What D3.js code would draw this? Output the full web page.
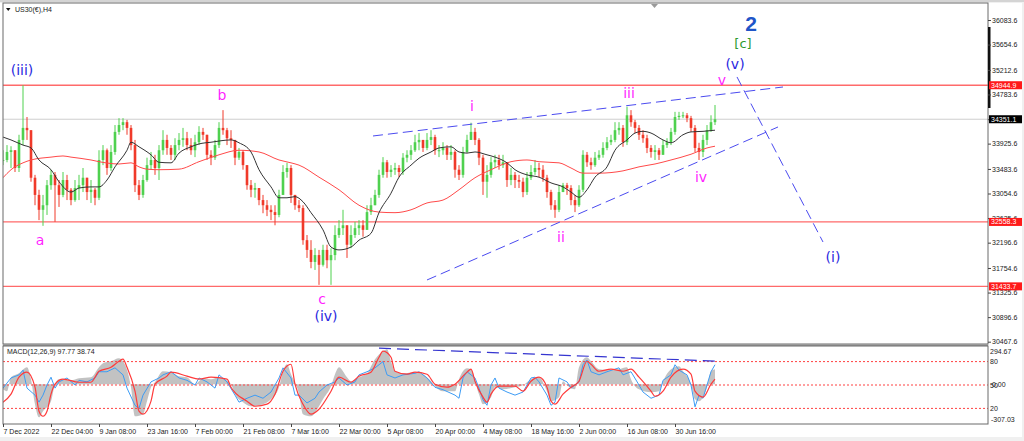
<!DOCTYPE html>
<html>
<head>
<meta charset="utf-8">
<script src="https://cdn.jsdelivr.net/npm/d3@7"></script>
<style>
  html, body { margin: 0; padding: 0; background: #f0f0f0; }
  svg { display: block; }
</style>
</head>
<body>
<svg id="chart" width="1024" height="441"></svg>
<script>
// US30(€) H4 candles, one entry per bar (open = previous close)
const closes = [
  33640,33780,33810,33500,33990,34200,34160,33330,33030,32770,
  32850,33200,33380,33200,33030,33290,33120,32940,33150,33200,
  33330,33080,33120,32980,33640,33810,33500,33780,34130,34250,
  34300,34200,33900,33200,33030,33290,33550,33640,33500,33810,
  33990,33850,33730,33900,33990,34020,33900,33810,33950,34130,
  34080,33730,33680,33900,34200,34160,34020,33990,33680,33780,
  33550,33200,33120,33150,32940,32850,32770,32730,32680,33030,
  33430,33500,33030,32850,32800,32240,32070,31860,31980,31810,
  32070,31890,31980,32330,32450,32500,32160,32330,32450,32500,
  32420,32730,32850,33030,33380,33600,33430,33470,33500,33430,
  33680,33730,33810,33950,33990,33850,33990,34040,33810,33810,
  33850,33730,33780,33470,33380,33780,33990,34130,33990,33680,
  33260,33380,33600,33640,33550,33600,33290,33380,33290,33260,
  33080,33330,33430,33500,33470,33330,33080,32850,32770,33080,
  33200,33150,32940,32850,33120,33730,33600,33550,33680,33730,
  33850,33950,33990,34160,34200,33950,34420,34300,34200,34080,
  34020,33850,33780,33810,33730,33900,33950,34130,34390,34410,
  34420,34370,34200,33850,33780,33990,34160,34300,34351.1
];
const highs = [
  33810,33900,33880,33810,34080,34945,34390,34160,33380,33120,
  33030,33290,33470,33430,33290,33430,33380,33150,33290,33380,
  33500,33330,33290,33150,33810,33900,33840,33900,34250,34370,
  34370,34340,34250,33990,33290,33380,33680,33780,33730,33900,
  34160,34080,33900,34020,34110,34200,34130,34020,34080,34230,
  34200,34080,33810,33990,34300,34510,34200,34160,33990,33850,
  33810,33550,33290,33240,33150,33030,32940,32850,32850,33120,
  33550,33590,33550,33030,32940,32850,32330,32240,32100,32070,
  32160,32160,32100,32500,32590,32770,32500,32500,32560,32590,
  32590,32850,32980,33120,33470,33690,33640,33550,33590,33550,
  33760,33810,33900,34080,34110,33990,34110,34160,34080,33900,
  33950,33900,33900,33810,33550,33870,34080,34290,34200,34020,
  33730,33550,33690,33730,33730,33730,33600,33500,33430,33380,
  33330,33430,33550,33640,33590,33550,33380,33120,32940,33200,
  33240,33240,33200,33030,33200,33810,33780,33680,33780,33810,
  33950,34040,34080,34300,34300,34250,34570,34510,34340,34250,
  34160,34080,33900,33900,33850,33990,34020,34200,34480,34480,
  34480,34460,34410,34250,33940,34080,34250,34420,34600
];
const lows = [
  33550,33600,33500,33430,33430,33900,33990,33260,32850,32590,
  32490,32680,33120,32560,32820,32990,32940,32850,32910,32940,
  33080,32940,32890,32850,32940,33550,33380,33450,33730,34080,
  34160,34080,33810,33080,32940,32980,33260,33470,33380,33290,
  33730,33730,33640,33640,33810,33870,33810,33730,33690,33900,
  33990,33640,33550,33640,33850,34080,33900,33850,33550,33640,
  33470,33120,32990,32980,32850,32710,32660,32590,32500,32640,
  33030,33330,32890,32770,32730,32160,31930,31750,31720,31460,
  31780,31750,31460,31890,32280,32330,31930,32100,32280,32330,
  32300,32420,32680,32850,32980,33330,33330,33340,33380,33340,
  33380,33600,33640,33780,33810,33780,33810,33900,33730,33690,
  33730,33640,33640,33330,33290,33330,33760,33990,33900,33550,
  33030,32980,33330,33500,33470,33500,33170,33200,33150,33150,
  32990,33030,33290,33380,33340,33260,32980,32770,32630,32730,
  33080,33030,32850,32730,32820,33080,33520,33470,33520,33640,
  33680,33810,33900,33950,34080,33870,33900,34220,34110,33990,
  33940,33760,33680,33640,33640,33730,33850,33900,34080,34340,
  34370,34300,34130,33780,33640,33690,33900,34130,34250
];

// moving averages, [bar, price]
const maFast = [
  [0,34040],[2,33990],[5,33900],[7,33850],[9,33640],[12,33470],[14,33260],[17,33080],
  [19,33150],[22,33170],[24,33170],[26,33290],[28,33520],[31,33810],[32,33950],[34,33870],
  [37,33730],[39,33600],[42,33590],[44,33760],[47,33870],[49,33920],[52,33950],[57,33990],
  [59,33940],[62,33780],[64,33470],[67,33170],[69,32980],[71,32980],[73,33000],[75,32910],
  [77,32720],[80,32420],[82,32120],[84,32070],[87,32120],[89,32240],[92,32360],[94,32720],
  [97,33060],[99,33340],[102,33550],[104,33670],[107,33780],[109,33850],[112,33870],[114,33780],
  [116,33760],[118,33780],[121,33730],[123,33690],[126,33590],[128,33470],[131,33380],[134,33340],
  [137,33240],[140,33170],[142,33080],[144,32990],[146,33120],[148,33340],[151,33520],[153,33810],
  [156,33990],[158,34110],[160,34140],[162,34110],[165,33990],[167,33940],[170,34080],[172,34130],
  [175,34140],[178,34160]
];
const maSlow = [
  [0,33330],[2,33470],[5,33590],[7,33640],[12,33690],[15,33710],[17,33690],[22,33640],
  [24,33610],[29,33570],[32,33590],[34,33520],[36,33480],[39,33470],[44,33480],[49,33610],
  [54,33730],[59,33810],[64,33780],[69,33640],[72,33590],[74,33550],[79,33340],[84,33120],
  [89,32850],[94,32730],[98,32720],[102,32770],[106,32890],[110,32940],[114,33120],[118,33330],
  [122,33470],[127,33610],[131,33640],[134,33610],[139,33590],[142,33500],[145,33410],[149,33410],
  [155,33450],[159,33520],[163,33570],[167,33640],[172,33740],[176,33850],[178,33880]
];

// MACD(12,26,9): main (histogram) and signal, [bar, value]
const macdMain = [
  [0,-39],[1,-54],[2,54],[4,85],[6,131],[7,39],[8,-154],[9,-255],[10,-208],[12,-131],
  [13,0],[14,39],[17,31],[19,46],[22,54],[24,131],[25,162],[27,177],[29,200],[30,177],
  [32,-23],[33,-247],[35,-231],[36,-131],[37,-23],[38,15],[40,100],[42,93],[44,62],[46,54],
  [48,0],[50,46],[52,39],[54,54],[57,0],[58,-77],[60,-139],[62,-170],[65,-154],[67,-116],
  [69,-23],[70,100],[71,154],[72,77],[74,-77],[75,-231],[77,-247],[79,-170],[80,-116],[82,-15],
  [83,77],[84,131],[86,54],[87,23],[89,54],[91,85],[93,193],[95,255],[96,270],[97,177],
  [98,100],[100,85],[103,93],[105,77],[107,23],[108,-15],[110,-54],[113,-54],[114,39],[116,123],
  [117,116],[119,-77],[120,-154],[122,-100],[123,-23],[125,-39],[128,-23],[130,-8],[132,39],[134,54],
  [136,-54],[137,-131],[139,-100],[140,23],[141,-8],[143,-39],[144,131],[146,208],[147,177],[149,116],
  [152,108],[154,116],[156,131],[157,39],[159,-39],[162,-62],[164,-54],[165,23],[167,116],[169,139],
  [170,100],[172,0],[173,-116],[174,-131],[176,-23],[177,100],[178,116]
];
const macdSignal = [
  [0,-139],[2,-77],[4,54],[6,93],[8,-23],[9,-208],[10,-247],[11,-208],[12,-77],[13,0],
  [15,39],[19,15],[22,15],[24,100],[27,131],[29,177],[30,193],[31,131],[33,-54],[34,-208],
  [35,-231],[37,-131],[38,0],[41,62],[42,93],[46,62],[49,39],[52,54],[56,39],[57,-23],
  [61,-131],[63,-170],[66,-154],[68,-77],[70,100],[72,154],[73,0],[75,-154],[77,-231],[79,-193],
  [82,-54],[84,54],[87,15],[89,62],[92,93],[94,208],[95,255],[97,208],[98,100],[101,77],
  [103,93],[106,77],[108,0],[111,-23],[113,0],[116,93],[117,116],[118,23],[120,-100],[121,-139],
  [122,-77],[124,-15],[128,-15],[130,-54],[132,23],[134,54],[136,-23],[137,-131],[138,-154],[140,-77],
  [142,-23],[144,23],[146,177],[147,154],[149,100],[152,116],[155,100],[157,116],[159,54],[162,-54],
  [163,-93],[165,-54],[167,54],[170,116],[172,77],[173,-54],[175,-100],[177,0],[178,38.74]
];
// second oscillator in the same window, 0..100 with 80/50/20 levels
const oscLine = [
  [0,46],[2,59],[4,63],[5,69],[6,46],[8,37],[9,28],[10,37],[11,50],[12,60],
  [13,46],[14,54],[16,59],[18,50],[19,56],[21,54],[23,59],[24,67],[26,67],[28,72],
  [30,63],[31,46],[33,24],[34,20],[35,37],[37,54],[39,59],[40,63],[42,67],[44,59],
  [46,56],[48,50],[49,59],[51,54],[53,46],[54,63],[56,54],[58,37],[59,28],[61,33],
  [63,37],[65,33],[67,41],[69,59],[70,72],[72,59],[73,37],[74,37],[76,27],[78,33],
  [79,41],[81,50],[83,54],[84,59],[86,50],[88,54],[89,63],[91,67],[93,72],[94,76],
  [95,80],[96,63],[98,59],[100,63],[103,65],[104,67],[106,59],[108,47],[110,44],[113,37],
  [114,33],[115,59],[116,67],[118,59],[119,46],[120,31],[121,24],[122,50],[123,59],[124,46],
  [126,41],[128,37],[130,41],[132,59],[133,60],[134,54],[136,37],[137,24],[138,28],[139,59],
  [141,54],[142,46],[144,54],[145,76],[146,82],[147,67],[149,63],[151,67],[154,72],[155,63],
  [157,67],[159,50],[160,41],[162,33],[164,37],[165,56],[167,63],[168,76],[169,69],[171,63],
  [172,50],[173,22],[174,37],[175,33],[176,50],[177,67],[178,76]
];
const macdTrendBar = [94, 179];
const macdTrendVal = [278, 177];
const oscLevels = [80, 50, 20];

// price axis
const priceTicks = [36083.6, 35654.6, 35212.6, 34783.6, 34351.6, 33925.6, 33483.6,
                    33054.6, 32625.6, 32196.6, 31754.6, 31325.6, 30896.6, 30467.6];
const levelPrices = [34944.9, 32558.3, 31433.7];
const lastPrice = 34351.1;

// time axis, one label every 12 bars
const dateLabels = ["7 Dec 2022", "22 Dec 04:00", "9 Jan 08:00", "23 Jan 16:00", "7 Feb 00:00",
  "21 Feb 08:00", "7 Mar 16:00", "22 Mar 00:00", "5 Apr 08:00", "20 Apr 00:00", "4 May 08:00",
  "18 May 16:00", "2 Jun 00:00", "16 Jun 08:00", "30 Jun 16:00"];
const barsPerLabel = 12;

// wave count annotations
const waveText   = ["(iii)", "a", "b", "c", "(iv)", "i", "ii", "iii", "iv", "v", "(v)", "[c]", "2", "(i)"];
const waveBar    = [4.75, 9.25, 54.75, 79.75, 80.75, 117.25, 139.5, 156.5, 174.5, 179.75, 183, 185, 187, 207.5];
const wavePrice  = [35211, 32243, 34775, 31213, 30916, 34583, 32295, 34810, 33343, 35036, 35316, 35682, 36031, 31946];
const waveDegree = ["minor", "minute", "minute", "minute", "minor", "minuette", "minuette", "minuette",
                    "minuette", "minuette", "minor", "intermediate", "primary", "minor"];

// trend lines drawn on the chart, [bar, price]
const trendLines = [
  [[92.5, 34059], [195, 34914]],
  [[106, 31545], [193.75, 34216]],
  [[183.5, 35089], [205, 32208]]
];

const axisFont = "'Liberation Sans', Arial, sans-serif";
const waveFont = "'DejaVu Sans', Verdana, sans-serif";
const degreeStyle = {
  primary:      { fill: "#1f55c8", size: 21, weight: "bold", family: axisFont },
  intermediate: { fill: "#2f9a2f", size: 13, weight: "normal", family: waveFont },
  minor:        { fill: "#2a2ae0", size: 14, weight: "normal", family: waveFont },
  minute:       { fill: "#ff1fff", size: 14, weight: "normal", family: waveFont },
  minuette:     { fill: "#ff1fff", size: 14, weight: "normal", family: waveFont }
};

const W = 1024, H = 441;
const left = 3, right = 988;
const mainTop = 3, mainBottom = 344, macdTop = 346, macdBottom = 424;

const svg = d3.select("#chart");

const x = d3.scaleLinear().domain([0, closes.length - 1]).range([3, 715]);
const y = d3.scaleLinear().domain([30467.6, 36083.6]).range([341.7, 20]);
const macdY = d3.scaleLinear().domain([-307.03, 294.67]).range([macdBottom, macdTop]);
const oscY = d3.scaleLinear().domain([0, 100]).range([macdBottom, macdTop]);

// background
svg.append("rect").attr("width", W).attr("height", H).attr("fill", "#f0f0f0");
svg.append("rect").attr("x", 0).attr("y", 0).attr("width", W).attr("height", 2).attr("fill", "#d4d4d4");
svg.append("rect").attr("x", 0).attr("y", mainTop).attr("width", W - 2).attr("height", 434).attr("fill", "#fff");

const defs = svg.append("defs");
defs.append("clipPath").attr("id", "clipMain").append("rect")
  .attr("x", left).attr("y", mainTop).attr("width", right - left).attr("height", mainBottom - mainTop);
defs.append("clipPath").attr("id", "clipMacd").append("rect")
  .attr("x", left).attr("y", macdTop).attr("width", right - left).attr("height", macdBottom - macdTop);

// ---------- main panel ----------
const main = svg.append("g").attr("clip-path", "url(#clipMain)");

main.append("line")
  .attr("x1", left).attr("x2", right)
  .attr("y1", y(lastPrice)).attr("y2", y(lastPrice))
  .attr("stroke", "#cfcfcf").attr("stroke-width", 1);

main.selectAll(".level").data(levelPrices).enter().append("line")
  .attr("class", "level")
  .attr("x1", left).attr("x2", right)
  .attr("y1", (d) => y(d)).attr("y2", (d) => y(d))
  .attr("stroke", "#ff6a6a").attr("stroke-width", 1.3);

const bars = closes.map((c, i) => ({
  i: i,
  open: i === 0 ? c : closes[i - 1],
  close: c,
  high: highs[i],
  low: lows[i]
}));
const barColor = (d) => d.close >= d.open ? "#4fd14f" : "#f03a2a";

const candle = main.append("g").selectAll("g").data(bars).enter().append("g");
candle.append("line")
  .attr("x1", (d) => x(d.i)).attr("x2", (d) => x(d.i))
  .attr("y1", (d) => y(d.high)).attr("y2", (d) => y(d.low))
  .attr("stroke", barColor).attr("stroke-width", 1);
candle.append("rect")
  .attr("x", (d) => x(d.i) - 1.3)
  .attr("width", 2.6)
  .attr("y", (d) => y(Math.max(d.open, d.close)))
  .attr("height", (d) => Math.max(1, Math.abs(y(d.open) - y(d.close))))
  .attr("fill", barColor);

const maLine = d3.line().x((d) => x(d[0])).y((d) => y(d[1])).curve(d3.curveMonotoneX);
main.append("path").datum(maSlow).attr("d", maLine)
  .attr("fill", "none").attr("stroke", "#ff4a4a").attr("stroke-width", 1);
main.append("path").datum(maFast).attr("d", maLine)
  .attr("fill", "none").attr("stroke", "#333").attr("stroke-width", 1);

main.selectAll(".trend").data(trendLines).enter().append("line")
  .attr("class", "trend")
  .attr("x1", (d) => x(d[0][0])).attr("y1", (d) => y(d[0][1]))
  .attr("x2", (d) => x(d[1][0])).attr("y2", (d) => y(d[1][1]))
  .attr("stroke", "#4b4bf0").attr("stroke-width", 1)
  .attr("stroke-dasharray", "10,5");

main.selectAll(".wave").data(waveText).enter().append("text")
  .attr("class", "wave")
  .attr("x", (d, k) => x(waveBar[k]))
  .attr("y", (d, k) => y(wavePrice[k]))
  .attr("text-anchor", "middle")
  .attr("dominant-baseline", "central")
  .attr("font-family", (d, k) => degreeStyle[waveDegree[k]].family)
  .attr("font-size", (d, k) => degreeStyle[waveDegree[k]].size)
  .attr("font-weight", (d, k) => degreeStyle[waveDegree[k]].weight)
  .attr("fill", (d, k) => degreeStyle[waveDegree[k]].fill)
  .text((d) => d);

// chart shift marker
svg.append("path")
  .attr("d", `M${x(162)},${mainTop + 1} l7,0 l-3.5,4 z`)
  .attr("fill", "#9a9a9a");

// ---------- MACD panel ----------
const macd = svg.append("g").attr("clip-path", "url(#clipMacd)");

macd.append("path").datum(macdMain)
  .attr("d", d3.area().x((d) => x(d[0])).y0(macdY(0)).y1((d) => macdY(d[1])).curve(d3.curveMonotoneX))
  .attr("fill", "#c2c2c2");

macd.selectAll(".osclevel").data(oscLevels).enter().append("line")
  .attr("class", "osclevel")
  .attr("x1", left).attr("x2", right)
  .attr("y1", (d) => oscY(d)).attr("y2", (d) => oscY(d))
  .attr("stroke", "#ff4040").attr("stroke-width", 1)
  .attr("stroke-dasharray", "2,2");

macd.append("path").datum(oscLine)
  .attr("d", d3.line().x((d) => x(d[0])).y((d) => oscY(d[1])))
  .attr("fill", "none").attr("stroke", "#3d9cf5").attr("stroke-width", 1);

macd.append("path").datum(macdSignal)
  .attr("d", d3.line().x((d) => x(d[0])).y((d) => macdY(d[1])).curve(d3.curveMonotoneX))
  .attr("fill", "none").attr("stroke", "#ff3a3a").attr("stroke-width", 1.2);

macd.append("line")
  .attr("x1", x(macdTrendBar[0])).attr("y1", macdY(macdTrendVal[0]))
  .attr("x2", x(macdTrendBar[1])).attr("y2", macdY(macdTrendVal[1]))
  .attr("stroke", "#3535d0").attr("stroke-width", 1.2)
  .attr("stroke-dasharray", "12,6");

// ---------- frames ----------
svg.append("rect").attr("x", left).attr("y", mainTop)
  .attr("width", right - left).attr("height", mainBottom - mainTop)
  .attr("fill", "none").attr("stroke", "#6a6a6a").attr("stroke-width", 1);
svg.append("rect").attr("x", left).attr("y", mainBottom)
  .attr("width", right - left).attr("height", macdTop - mainBottom)
  .attr("fill", "#9a9a9a");
svg.append("rect").attr("x", left).attr("y", macdTop)
  .attr("width", right - left).attr("height", macdBottom - macdTop)
  .attr("fill", "none").attr("stroke", "#6a6a6a").attr("stroke-width", 1);
svg.append("rect").attr("x", right).attr("y", 27).attr("width", 2.5).attr("height", 81).attr("fill", "#111");

// ---------- axes ----------
const priceAxis = svg.append("g")
  .attr("transform", `translate(${right},0)`)
  .call(d3.axisRight(y).tickValues(priceTicks).tickSize(3).tickPadding(1)
    .tickFormat((d) => d.toFixed(1)));
priceAxis.select(".domain").remove();
priceAxis.selectAll("text").attr("font-family", axisFont).attr("font-size", 7).attr("fill", "#222");
priceAxis.selectAll("line").attr("stroke", "#444");

const tagW = 33, tagH = 8;
const tags = svg.append("g");
const tagData = levelPrices.map((p) => ({ p: p, bg: "#ff1a1a" })).concat([{ p: lastPrice, bg: "#000" }]);
tags.selectAll("rect").data(tagData).enter().append("rect")
  .attr("x", right + 1).attr("y", (d) => y(d.p) - tagH / 2)
  .attr("width", tagW).attr("height", tagH)
  .attr("fill", (d) => d.bg);
tags.selectAll("text").data(tagData).enter().append("text")
  .attr("x", right + 3).attr("y", (d) => y(d.p))
  .attr("dominant-baseline", "central")
  .attr("font-family", axisFont).attr("font-size", 7).attr("fill", "#fff")
  .text((d) => d.p.toFixed(1));

const macdAxis = svg.append("g").attr("font-family", axisFont).attr("font-size", 7).attr("fill", "#222");
macdAxis.append("text").attr("x", right + 2).attr("y", macdY(294.67) + 5)
  .attr("dominant-baseline", "central").text("294.67");
macdAxis.append("text").attr("x", right + 3).attr("y", macdY(-307.03) - 5)
  .attr("dominant-baseline", "central").text("-307.03");
macdAxis.append("text").attr("x", right + 4).attr("y", macdY(0))
  .attr("dominant-baseline", "central").text("0.00");
macdAxis.selectAll(".lv").data(oscLevels).enter().append("text")
  .attr("class", "lv")
  .attr("x", right + 2).attr("y", (d) => oscY(d))
  .attr("dominant-baseline", "central").text((d) => d);

const dateTicks = dateLabels.map((d, k) => k * barsPerLabel);
const timeAxis = svg.append("g")
  .attr("transform", `translate(0,${macdBottom})`)
  .call(d3.axisBottom(x).tickValues(dateTicks).tickSize(3).tickPadding(2)
    .tickFormat((d, k) => dateLabels[k]));
timeAxis.select(".domain").remove();
timeAxis.selectAll("line").attr("stroke", "#444");
timeAxis.selectAll("text")
  .attr("text-anchor", "start")
  .attr("font-family", axisFont).attr("font-size", 7).attr("fill", "#222");

// titles
svg.append("path").attr("d", "M6,8 l4.5,0 l-2.25,3 z").attr("fill", "#111");
svg.append("text").attr("x", 15).attr("y", 12)
  .attr("font-family", axisFont).attr("font-size", 7).attr("fill", "#222")
  .text("US30(€),H4");
svg.append("text").attr("x", 7).attr("y", 354)
  .attr("font-family", axisFont).attr("font-size", 7).attr("fill", "#222")
  .text("MACD(12,26,9) 97.77 38.74");
</script>
</body>
</html>
